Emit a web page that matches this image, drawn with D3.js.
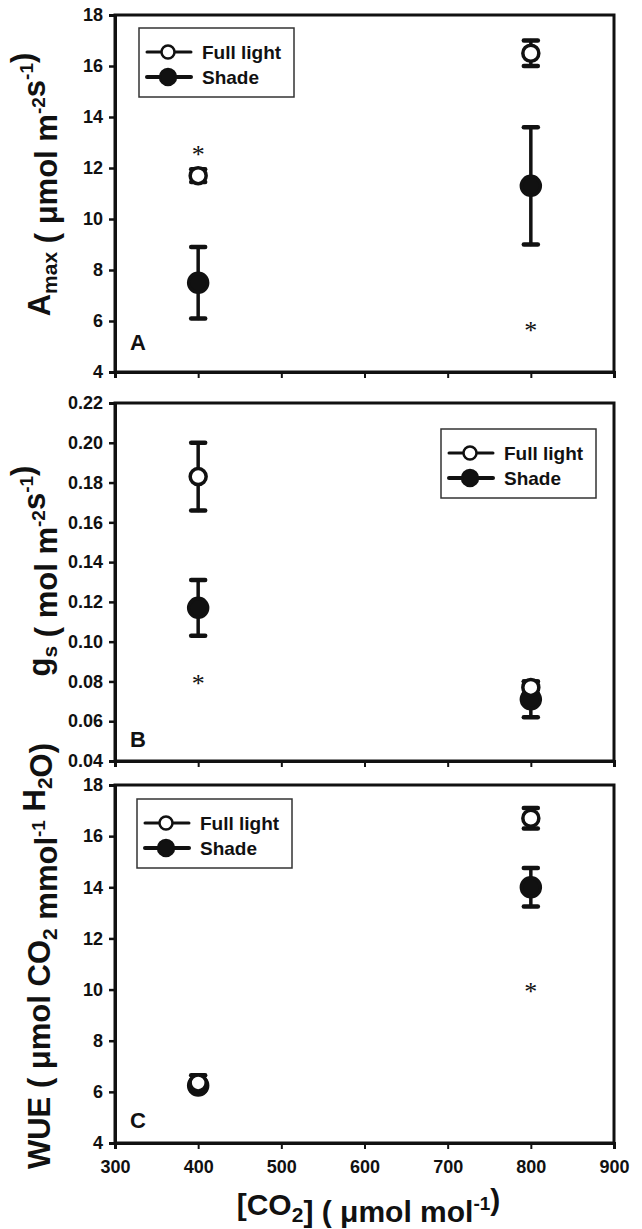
<!DOCTYPE html>
<html lang="en">
<head>
<meta charset="UTF-8">
<title>Amax, gs and WUE under two CO2 levels</title>
<script src="https://cdn.jsdelivr.net/npm/d3@7"></script>
<style>
    body { margin: 0; background: #fff; }
    svg text { font-family: "Liberation Sans", Arial, sans-serif; font-weight: bold; fill: #111; }
    .tick text { font-size: 18px; }
    .star { font-family: "Liberation Serif", serif !important; font-weight: normal !important; font-size: 26px; }
</style>
</head>
<body>
<div id="chart"></div>
<script>
    /* data */
    var co2 = [400, 800];

    var amaxFull = [11.7, 16.5], amaxFullErr = [0.25, 0.5];
    var amaxShade = [7.5, 11.3], amaxShadeErr = [1.4, 2.3];
    var amaxStars = [[400, 12.7], [800, 5.8]];
    var amaxTicks = [4, 6, 8, 10, 12, 14, 16, 18];

    var gsFull = [0.183, 0.077], gsFullErr = [0.017, 0.003];
    var gsShade = [0.117, 0.071], gsShadeErr = [0.014, 0.009];
    var gsStars = [[400, 0.081]];
    var gsTicks = [0.04, 0.06, 0.08, 0.10, 0.12, 0.14, 0.16, 0.18, 0.20, 0.22];

    var wueFull = [6.35, 16.7], wueFullErr = [0.3, 0.4];
    var wueShade = [6.25, 14.0], wueShadeErr = [0.2, 0.75];
    var wueStars = [[800, 10.1]];
    var wueTicks = [4, 6, 8, 10, 12, 14, 16, 18];

    var co2Ticks = [300, 400, 500, 600, 700, 800, 900];
    var seriesNames = ["Full light", "Shade"];

    var W = 642, H = 1229;
    var svg = d3.select("#chart").append("svg")
        .attr("width", W)
        .attr("height", H);

    svg.append("rect").attr("width", W).attr("height", H).attr("fill", "#fff");

    var x = d3.scaleLinear().domain([300, 900]).range([115, 614]);

    function panel(opt) {
        var y = d3.scaleLinear().domain(opt.domain).range([opt.bottom, opt.top]);
        var g = svg.append("g");

        // frame
        g.append("rect")
            .attr("x", x.range()[0]).attr("y", opt.top)
            .attr("width", x.range()[1] - x.range()[0])
            .attr("height", opt.bottom - opt.top)
            .attr("fill", "none").attr("stroke", "#111").attr("stroke-width", 3);

        // axes
        var ya = g.append("g")
            .attr("transform", "translate(" + x.range()[0] + ",0)")
            .call(d3.axisLeft(y).tickValues(opt.ticks).tickSize(6).tickPadding(6).tickFormat(opt.fmt));
        ya.select(".domain").attr("stroke-width", 3).attr("stroke", "#111");
        ya.selectAll(".tick line").attr("stroke-width", 2.5).attr("stroke", "#111");

        var xa = g.append("g")
            .attr("transform", "translate(0," + opt.bottom + ")")
            .call(d3.axisBottom(x).tickValues(co2Ticks).tickSize(6).tickPadding(11));
        xa.select(".domain").attr("stroke-width", 3).attr("stroke", "#111");
        xa.selectAll(".tick line").attr("stroke-width", 2).attr("stroke", "#111");
        if (!opt.xLabels) xa.selectAll(".tick text").remove();

        // shade first, full light on top
        var series = [
            {name: "Shade", v: opt.shade, e: opt.shadeErr, fill: "#111", r: 9.5},
            {name: "Full light", v: opt.full, e: opt.fullErr, fill: "#fff", r: 8}
        ];
        series.forEach(function(s) {
            var pts = co2.map(function(c, i) { return {c: c, v: s.v[i], e: s.e[i]}; });
            var eg = g.append("g").attr("stroke", "#111").attr("stroke-linecap", "round");
            eg.selectAll(null).data(pts).enter().append("line")
                .attr("x1", d => x(d.c)).attr("x2", d => x(d.c))
                .attr("y1", d => y(d.v - d.e)).attr("y2", d => y(d.v + d.e))
                .attr("stroke-width", 3.5);
            [-1, 1].forEach(function(sgn) {
                eg.selectAll(null).data(pts).enter().append("line")
                    .attr("x1", d => x(d.c) - 7).attr("x2", d => x(d.c) + 7)
                    .attr("y1", d => y(d.v + sgn * d.e)).attr("y2", d => y(d.v + sgn * d.e))
                    .attr("stroke-width", 4.5);
            });
            g.selectAll(null).data(pts).enter().append("circle")
                .attr("cx", d => x(d.c)).attr("cy", d => y(d.v))
                .attr("r", s.r)
                .attr("fill", s.fill)
                .attr("stroke", "#111").attr("stroke-width", 3.5);
        });

        // significance marks
        g.selectAll(null).data(opt.stars).enter().append("text")
            .attr("class", "star")
            .attr("x", d => x(d[0])).attr("y", d => y(d[1]) + 13)
            .attr("text-anchor", "middle")
            .text("*");

        // panel letter
        g.append("text")
            .attr("x", x.range()[0] + 15).attr("y", opt.bottom - opt.letterGap)
            .attr("font-size", 22)
            .text(opt.letter);

        // legend
        var lg = g.append("g").attr("transform", "translate(" + opt.legend[0] + "," + opt.legend[1] + ")");
        lg.append("rect").attr("width", 155).attr("height", 69)
            .attr("fill", "#fff").attr("stroke", "#333").attr("stroke-width", 1.5);
        seriesNames.forEach(function(n, i) {
            var ry = 24 + i * 25;
            lg.append("line").attr("x1", 8).attr("x2", 52).attr("y1", ry).attr("y2", ry)
                .attr("stroke", "#111").attr("stroke-width", i ? 4 : 3).attr("stroke-linecap", "round");
            lg.append("circle").attr("cx", 29).attr("cy", ry).attr("r", i ? 8 : 6.5)
                .attr("fill", i ? "#111" : "#fff").attr("stroke", "#111").attr("stroke-width", 2.5);
            lg.append("text").attr("x", 63).attr("y", ry + 7).attr("font-size", 19).text(n);
        });

        // y title
        var t = g.append("text")
            .attr("transform", "translate(50," + ((opt.top + opt.bottom) / 2 + opt.titleShift) + ") rotate(-90)")
            .attr("text-anchor", "middle")
            .attr("font-size", 31);
        opt.title(t);
    }

    function sub(t, s) { t.append("tspan").attr("font-size", 21).attr("dy", 7).text(s); t.append("tspan").attr("dy", -7).text(""); }
    function sup(t, s) { t.append("tspan").attr("font-size", 19).attr("dy", -12).text(s); t.append("tspan").attr("dy", 12).text(""); }

    panel({
        top: 15, bottom: 372, domain: [4, 18], ticks: amaxTicks, fmt: d3.format("d"),
        full: amaxFull, fullErr: amaxFullErr, shade: amaxShade, shadeErr: amaxShadeErr,
        stars: amaxStars, letter: "A", letterGap: 22, legend: [139, 28], titleShift: -9,
        title: function(t) {
            t.append("tspan").text("A"); sub(t, "max");
            t.append("tspan").text(" ( μmol m"); sup(t, "-2");
            t.append("tspan").text("s"); sup(t, "-1");
            t.append("tspan").text(")");
        }
    });

    panel({
        top: 403, bottom: 761, domain: [0.04, 0.22], ticks: gsTicks, fmt: d3.format(".2f"),
        full: gsFull, fullErr: gsFullErr, shade: gsShade, shadeErr: gsShadeErr,
        stars: gsStars, letter: "B", letterGap: 14, legend: [441, 429], titleShift: -11,
        title: function(t) {
            t.append("tspan").text("g"); sub(t, "s");
            t.append("tspan").text(" ( mol m"); sup(t, "-2");
            t.append("tspan").text("s"); sup(t, "-1");
            t.append("tspan").text(")");
        }
    });

    panel({
        top: 785, bottom: 1143, domain: [4, 18], ticks: wueTicks, fmt: d3.format("d"), xLabels: true,
        full: wueFull, fullErr: wueFullErr, shade: wueShade, shadeErr: wueShadeErr,
        stars: wueStars, letter: "C", letterGap: 15, legend: [137, 799], titleShift: -8,
        title: function(t) {
            t.append("tspan").text("WUE ( μmol CO"); sub(t, "2");
            t.append("tspan").text(" mmol"); sup(t, "-1");
            t.append("tspan").text(" H"); sub(t, "2");
            t.append("tspan").text("O)");
        }
    });

    // x title
    var xt = svg.append("text")
        .attr("x", (x.range()[0] + x.range()[1]) / 2 + 4).attr("y", 1215)
        .attr("text-anchor", "middle").attr("font-size", 30);
    xt.append("tspan").text("[CO"); sub(xt, "2");
    xt.append("tspan").text("] ( μmol mol"); sup(xt, "-1");
    xt.append("tspan").text(")");
</script>
</body>
</html>
